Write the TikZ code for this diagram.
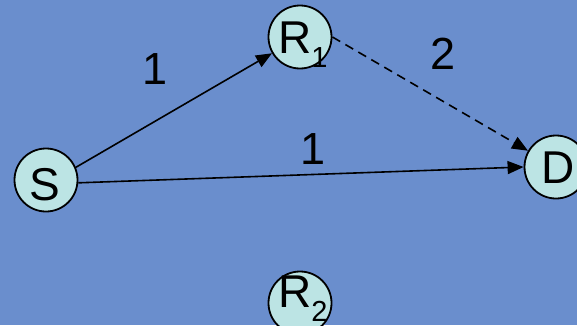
\documentclass[tikz,border=0pt]{standalone}
\usepackage{fontspec}
\setmainfont{Liberation Sans}
\usetikzlibrary{arrows.meta}
\definecolor{bgblue}{RGB}{106,142,205}
\definecolor{nodefill}{RGB}{188,228,228}
\tikzset{
  circ/.style={circle,draw=black,line width=1.8pt,fill=nodefill,minimum size=63pt,inner sep=0pt},
  txt/.style={inner sep=0pt,anchor=base west,font=\fontsize{46}{46}\selectfont},
  num/.style={inner sep=0pt,anchor=base,font=\fontsize{45}{45}\selectfont},
  conn/.style={line width=1.6pt,-{Triangle[length=16pt,width=13pt]}}
}
\newcommand{\mysub}[1]{\raisebox{-14.5pt}{\fontsize{29}{29}\selectfont #1}}
\begin{document}
\begin{tikzpicture}[x=1pt,y=1pt]
\fill[bgblue] (0,0) rectangle (577,325);
\useasboundingbox (0,0) rectangle (577,325);
\node[circ] (S) at (46,145) {};
\node[circ] (R1) at (300,288) {};
\node[circ] (D) at (556,158) {};
\node[circ] (R2) at (300,22) {};
\node[txt] (St) at (29.5,125) {S};
\node[txt] (R1t) at (278,272) {R\mysub{1}};
\node[txt] (Dt) at (541,142) {D};
\node[txt] (R2t) at (278,18) {R\mysub{2}};
\draw[conn] (S.23) -- (R1);
\draw[conn] (S.-5) -- (D.west);
\draw[conn,dash pattern=on 9pt off 6pt] (R1.east) -- (D);
\node[num] (l1) at (155.5,241) {1};
\node[num] (l2) at (443,256) {2};
\node[num] (l3) at (313,161) {1};
\end{tikzpicture}
\end{document}
